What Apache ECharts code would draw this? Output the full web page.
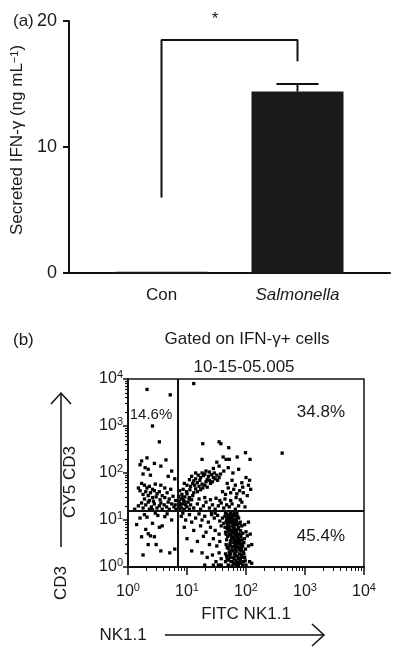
<!DOCTYPE html>
<html><head><meta charset="utf-8">
<script src="https://cdn.jsdelivr.net/npm/echarts@6/dist/echarts.min.js"></script>
<style>html,body{margin:0;padding:0;background:#fff}#c{width:400px;height:657px}</style>
</head><body><div id="c"></div>
<script>
// ---------- Panel (a) data ----------
const barCategories = ['Con', 'Salmonella'];
const barValues = [0.1, 14.4];
const barErrors = [0, 0.6];
const barYTicks = [0, 10, 20];
const bracketCategories = ['Con', 'Con', 'Salmonella', 'Salmonella'];
const bracketLevels = [6, 18.5, 18.5, 16.8];

// ---------- Panel (b) data ----------
const flowLogTicks = [1, 10, 100, 1000, 10000];
const flowTickExponents = ['0', '1', '2', '3', '4'];
const gateNk11 = 6.9;
const gateCd3 = 15.5;
const quadrantLabels = ['14.6%', '34.8%', '45.4%'];

const cellsUpperLeft = [
 [2.1,6000],[5.2,4600],[2.6,1000],[3.4,460],[2.1,210],[4.4,190],[1.7,180],[1.95,130],
 [1.6,150],[2.2,120],[2.8,160],[3.6,140],[5.5,110],[1.8,95],[4.8,85],[2.4,90],[6.2,75],
 [1.7,60],[1.9,55],[2.1,48],[2.3,52],[2.6,45],[2.0,40],[2.4,38],[2.8,42],[3.1,36],[1.8,35],
 [2.2,33],[2.6,30],[3.0,31],[3.4,40],[3.8,33],[1.6,42],[1.9,28],[2.3,26],[2.7,25],[3.5,27],
 [4.2,30],[4.6,38],[5.0,28],[5.8,32],[6.4,26],[1.5,48],[2.9,58],[3.6,55],[4.2,48],[5.3,45],
 [1.5,20],[1.8,18],[2.0,21],[2.3,17],[2.5,19],[2.8,22],[3.1,18],[3.4,20],[3.8,17],[4.1,21],
 [4.5,19],[5.0,17],[5.5,22],[6.0,19],[6.5,17],[1.3,17],[2.6,16.5],[3.6,23],[4.8,24],[6.3,21],
 [1.7,23],[2.2,24]
];
const cellsUpperRight = [
 [13,8000],[18.5,420],[35,460],[37.5,420],[51,345],[98,270],[410,265],[18,195],[32,170],
 [41,219],[46,195],[52,195],[71,219],[117,195],
 [7.3,17],[7.6,20],[8.0,18],[8.5,22],[9.0,17],[7.4,25],[7.9,28],[8.8,26],[9.5,21],[10,19],
 [10.5,24],[11,17],[11.5,21],[12,27],[7.2,32],[8.2,35],[9.2,31],[10,36],[11,30],[12.5,33],
 [7.5,42],[8.6,45],[9.8,40],[11.2,44],[7.8,22],[8.3,30],[9.3,24],[10.8,28],
 [13,38],[14,46],[15,40],[16,52],[17,44],[18,58],[13.5,55],[15,62],[16.5,70],[18.5,48],
 [20,55],[21,65],[22,72],[14,75],[17,80],[19,88],[20,95],[23,85],[24,70],[25,60],[22,50],
 [12.5,60],[11.5,52],[10,55],[9,60],[13,68],[15.5,90],[18,100],[21,110],[24,105],[26,92],
 [28,80],[30,75],[27,65],[29,100],[32,90],[35,80],[33,70],[37,95],[14,100],[12,85],[11,72],
 [13,18],[15,22],[17,17],[19,20],[21,24],[24,18],[27,21],[30,17],[34,20],[38,23],[42,18],
 [47,21],[52,19],[58,22],[66,17],[75,20],[85,24],[96,19],[16,28],[20,30],[25,27],[31,29],
 [36,26],[44,28],[55,26],[68,30],[80,27],
 [40,40],[45,35],[50,48],[55,38],[62,45],[70,36],[78,42],[90,38],[105,33],[120,45],[48,60],
 [58,70],[66,55],[85,62],[100,80],[115,70],[42,110],[50,130],[35,140],[28,125],[60,100],
 [75,120],[88,50],[110,55]
];
const cellsLowerRight = [
 [45,14],[50,12],[55,14.5],[48,11],[60,13],[52,10.5],[58,11.5],[65,12.5],[44,12],[70,14],
 [62,10],[47,13.5],[75,11],[40,11],[53,13],
 [46,9],[50,8],[54,9.5],[58,7.5],[62,8.5],[66,9],[44,7],[48,6.5],[56,6],[60,9.8],[70,8],
 [75,7],[80,9],[42,8.5],[52,7],[64,6.5],[85,7.5],[95,8],[110,9],[68,6],
 [45,5.5],[49,4.5],[53,5],[57,4],[61,5.8],[65,4.8],[69,5.5],[73,4.2],[77,5],[82,4.5],[88,5.2],
 [94,4],[100,5.6],[47,3.8],[55,3.6],[63,3.9],[71,3.7],[79,3.6],[58,5.3],[66,3.5],[86,3.8],
 [105,4.6],[118,5],
 [46,3],[50,2.5],[54,3.2],[58,2.7],[62,3.3],[66,2.4],[70,3],[74,2.6],[78,3.2],[83,2.2],
 [88,2.8],[92,3.3],[98,2.4],[52,2.1],[60,2.2],[68,2.1],[76,2.3],[85,3.1],[110,2.8],[125,3],
 [45,1.9],[48,1.5],[52,1.8],[56,1.3],[60,1.6],[64,1.9],[68,1.4],[72,1.7],[76,1.2],[80,1.5],
 [84,1.8],[90,1.3],[95,1.6],[100,1.1],[50,1.1],[58,1.05],[66,1.15],[74,1.05],[88,1.1],
 [54,1.6],[70,1.25],[82,1.2],[115,1.3],[125,1.2],[62,1.2],[78,1.9],[45,1.3],
 [47,10],[51,9],[55,11],[59,12],[63,14],[67,10.5],[72,12],[49,7.5],[53,6.2],[57,8.8],[61,7],
 [65,7.8],[69,9.5],[73,6.4],[77,8.4],[46,5],[51,5.8],[56,4.6],[60,4.3],[64,5.4],[68,4.4],
 [72,5],[76,3.9],[81,5.9],[48,2.6],[53,2.9],[57,2.3],[61,2.7],[65,3.1],[69,2.6],[73,3.4],
 [80,2.9],[84,2.5],[90,2.1],[47,1.7],[51,1.4],[55,1.9],[59,1.3],[63,1.5],[67,1.75],[71,1.1],
 [75,1.55],[79,1.35],[86,1.6],[92,1.9],[97,1.35],
 [8,12],[9.5,10],[11,13],[12,9],[14,11],[16,13.5],[18,10],[20,12],[23,9],[26,13],[29,11],
 [33,12.5],[36,9.5],[9,7],[13,6],[17,7.5],[21,5.5],[25,7],[30,6],[35,5],[38,7.5],[10,4],
 [15,3.5],[19,4.5],[24,3],[28,4],[32,2.8],[36,3.5],[12,2.2],[18,2],[22,1.6],[27,1.8],
 [31,1.3],[35,2],[38,1.5],[20,1.1],[8.5,14],[26,15],[30,14],[34,1.1],[38,1.1],[28,1.1]
];
const cellsLowerLeft = [
 [1.6,11],[2.1,11.5],[1.7,4.4],[2,6.3],[2.2,5.1],[2.4,4.6],[2.8,4.4],[2.2,3],[3,3],[3.4,7],
 [3.8,7.5],[3.6,2.2],[5.1,2],[1.8,1.8],[4.2,11.8],[5.5,10],[6.2,2.4],[2.6,8.5],[1.9,13],
 [3.2,12.5],[4.6,13.5],[2.9,14],[1.4,8]
];

// ---------- chart ----------
const FONT = '"Liberation Sans", Arial, Helvetica, sans-serif';
const INK = '#111';
const TXT = '#1a1a1a';
const chart = echarts.init(document.getElementById('c'), null, {renderer: 'canvas'});

const allCells = cellsUpperLeft.concat(cellsUpperRight, cellsLowerRight, cellsLowerLeft);
const quadrantAnchors = [[2.45, 1700], [1860, 2000], [1860, 4.4]];
const quadrantFontSizes = [15, 17, 17];

const logLabelFormatter = function (value) {
  const e = Math.round(Math.log10(value));
  const idx = flowLogTicks.indexOf(Math.pow(10, e));
  return '{b|10}{s|' + flowTickExponents[idx] + '}';
};
const supRich = {
  b: {fontSize: 16, fontFamily: FONT, color: TXT, lineHeight: 19},
  s: {fontSize: 11, fontFamily: FONT, color: TXT, lineHeight: 11, verticalAlign: 'top'}
};

const option = {
  animation: false,
  backgroundColor: '#fff',
  textStyle: {fontFamily: FONT},
  grid: [
    {left: 69, top: 21, width: 321, height: 252},
    {left: 93.5, top: 21, width: 272, height: 252},
    {left: 128, top: 379, width: 236, height: 188, show: true, borderColor: INK, borderWidth: 1.5, backgroundColor: 'transparent'}
  ],
  xAxis: [
    {gridIndex: 0, type: 'value', min: 0, max: 1,
     axisLine: {show: true, onZero: false, lineStyle: {color: INK, width: 2}},
     axisTick: {show: false}, axisLabel: {show: false}, splitLine: {show: false}},
    {gridIndex: 1, type: 'category',
     data: barCategories.map(c => c === 'Salmonella' ? {value: c, textStyle: {fontStyle: 'italic'}} : {value: c}),
     axisLine: {show: false}, axisTick: {show: false},
     axisLabel: {fontSize: 17, color: TXT, margin: 14, fontFamily: FONT}},
    {gridIndex: 2, type: 'log', logBase: 10, min: flowLogTicks[0], max: flowLogTicks[flowLogTicks.length - 1],
     axisLine: {show: true, onZero: false, lineStyle: {color: INK, width: 2}},
     axisTick: {show: true, length: 8, lineStyle: {color: INK, width: 1.5}},
     minorTick: {show: true, splitNumber: 9, length: 4, lineStyle: {color: INK, width: 1}},
     splitLine: {show: false}, minorSplitLine: {show: false},
     axisLabel: {margin: 15, formatter: logLabelFormatter, rich: supRich},
     name: 'FITC NK1.1', nameLocation: 'middle', nameGap: 39,
     nameTextStyle: {fontSize: 17, color: TXT, fontFamily: FONT}}
  ],
  yAxis: [
    {gridIndex: 0, type: 'value', min: barYTicks[0], max: barYTicks[barYTicks.length - 1],
     interval: barYTicks[1] - barYTicks[0],
     axisLine: {show: true, lineStyle: {color: INK, width: 2}},
     axisTick: {show: true, length: 6, lineStyle: {color: INK, width: 2}},
     axisLabel: {fontSize: 18, color: TXT, margin: 12, fontFamily: FONT},
     splitLine: {show: false},
     name: 'Secreted IFN-γ (ng mL{s|−1})', nameLocation: 'middle', nameGap: 40,
     nameTextStyle: {fontSize: 17, color: TXT, fontFamily: FONT, padding: [0, 0, 0, 14],
       rich: {s: {fontSize: 11, fontFamily: FONT, color: TXT, verticalAlign: 'top', lineHeight: 11}}}},
    {gridIndex: 1, type: 'value', min: barYTicks[0], max: barYTicks[barYTicks.length - 1], show: false},
    {gridIndex: 2, type: 'log', logBase: 10, min: flowLogTicks[0], max: flowLogTicks[flowLogTicks.length - 1],
     axisLine: {show: true, onZero: false, lineStyle: {color: INK, width: 2}},
     axisTick: {show: true, length: 5, lineStyle: {color: INK, width: 1.5}},
     minorTick: {show: true, splitNumber: 9, length: 3, lineStyle: {color: INK, width: 1.2}},
     splitLine: {show: false}, minorSplitLine: {show: false},
     axisLabel: {margin: 5, formatter: logLabelFormatter, rich: supRich},
     name: 'CY5 CD3', nameLocation: 'middle', nameGap: 49,
     nameTextStyle: {fontSize: 17, color: TXT, fontFamily: FONT, padding: [0, 18, 0, 0]}}
  ],
  series: [
    {type: 'bar', xAxisIndex: 1, yAxisIndex: 1, data: barValues, barWidth: 92,
     itemStyle: {color: '#1a1a1a'}},
    {type: 'custom', xAxisIndex: 1, yAxisIndex: 1,
     data: barCategories.map((c, i) => [i, barValues[i], barValues[i] + barErrors[i]]).filter(d => barErrors[d[0]] > 0),
     encode: {x: 0, y: [1, 2]},
     renderItem: function (params, api) {
       const i = api.value(0);
       const base = api.coord([i, api.value(1)]);
       const top = api.coord([i, api.value(2)]);
       const half = api.size([1, 0])[0] * 0.155;
       return {type: 'group', children: [
         {type: 'line', shape: {x1: top[0], y1: base[1], x2: top[0], y2: top[1]}, style: {stroke: INK, lineWidth: 2}},
         {type: 'line', shape: {x1: top[0] - half, y1: top[1], x2: top[0] + half, y2: top[1]}, style: {stroke: INK, lineWidth: 2}}
       ]};
     }},
    {type: 'line', xAxisIndex: 1, yAxisIndex: 1, symbol: 'none',
     data: bracketCategories.map((c, i) => [c, bracketLevels[i]]),
     lineStyle: {color: INK, width: 2}},
    {type: 'scatter', xAxisIndex: 2, yAxisIndex: 2, data: allCells,
     symbol: 'rect', symbolSize: 3.3, itemStyle: {color: '#000', opacity: 1},
     markLine: {silent: true, symbol: ['none', 'none'], label: {show: false},
       lineStyle: {color: INK, width: 2, type: 'solid'},
       data: [{xAxis: gateNk11}, {yAxis: gateCd3}]}},
    {type: 'scatter', xAxisIndex: 2, yAxisIndex: 2, symbolSize: 1,
     itemStyle: {color: 'rgba(0,0,0,0)', opacity: 1},
     data: quadrantAnchors.map((a, i) => ({value: a, label: {fontSize: quadrantFontSizes[i]}})),
     label: {show: true, position: 'inside', color: TXT, fontFamily: FONT,
       formatter: p => quadrantLabels[p.dataIndex], fontSize: 17},
     labelLayout: {hideOverlap: false}}
  ],
  graphic: [
    {type: 'text', x: 13, y: 21, style: {text: '(a)', fontSize: 17, fontFamily: FONT, fill: TXT, verticalAlign: 'middle'}},
    {type: 'text', x: 215, y: 19, style: {text: '*', fontSize: 17, fontFamily: FONT, fill: TXT, align: 'center', verticalAlign: 'middle'}},
    {type: 'text', x: 13, y: 340, style: {text: '(b)', fontSize: 17, fontFamily: FONT, fill: TXT, verticalAlign: 'middle'}},
    {type: 'text', x: 247, y: 339, style: {text: 'Gated on IFN-γ+ cells', fontSize: 17, fontFamily: FONT, fill: TXT, align: 'center', verticalAlign: 'middle'}},
    {type: 'text', x: 244, y: 367, style: {text: '10-15-05.005', fontSize: 17, fontFamily: FONT, fill: TXT, align: 'center', verticalAlign: 'middle'}},
    {type: 'text', x: 61, y: 583, rotation: Math.PI / 2, style: {text: 'CD3', fontSize: 17, fontFamily: FONT, fill: TXT, align: 'center', verticalAlign: 'middle'}},
    {type: 'text', x: 123, y: 635, style: {text: 'NK1.1', fontSize: 17, fontFamily: FONT, fill: TXT, align: 'center', verticalAlign: 'middle'}},
    {type: 'polyline', shape: {points: [[61, 547], [61, 393]]}, style: {stroke: INK, lineWidth: 1.5, fill: null}},
    {type: 'polyline', shape: {points: [[51, 404], [61, 393], [71, 404]]}, style: {stroke: INK, lineWidth: 1.5, fill: null}},
    {type: 'polyline', shape: {points: [[165, 635], [323, 635]]}, style: {stroke: INK, lineWidth: 1.5, fill: null}},
    {type: 'polyline', shape: {points: [[312, 624], [324, 635], [312, 646]]}, style: {stroke: INK, lineWidth: 1.5, fill: null}}
  ]
};
chart.setOption(option);
</script>
</body></html>
